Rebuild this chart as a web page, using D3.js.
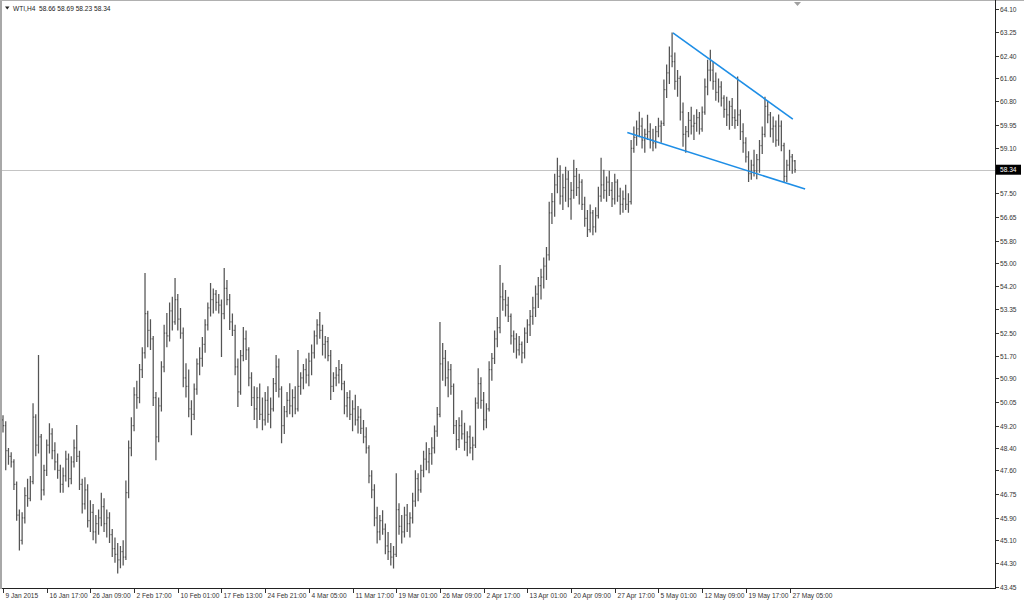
<html>
<head>
<script src="https://d3js.org/d3.v7.min.js"></script>
<style>
  body { margin: 0; background: #fff; }
  text { font-family: "Liberation Sans", Arial, sans-serif; }
</style>
</head>
<body>
<svg id="chart" width="1024" height="602"></svg>
<script>
// WTI H4 bars, 9 Jan 2015 .. 27 May 2015
var firstOpen = 49.40;
var highs = [
  49.57,49.35,48.40,48.25,48.00,47.20,46.20,46.10,47.00,47.30,
  47.40,50.00,49.60,51.72,48.90,47.80,48.70,49.28,49.10,48.60,
  48.20,47.80,47.70,48.30,48.20,48.10,48.70,49.22,48.30,47.30,
  47.35,47.10,46.53,46.40,46.00,46.20,46.80,46.60,46.20,46.10,
  45.50,45.20,45.00,44.90,45.10,47.24,48.67,49.50,50.57,50.80,
  51.40,52.00,54.65,53.30,53.00,52.40,50.40,50.20,51.50,52.80,
  53.22,53.60,53.80,54.47,53.90,53.40,52.70,51.43,51.20,50.10,
  50.70,51.60,52.00,52.36,53.00,53.60,54.29,54.10,54.04,53.90,
  53.70,54.83,54.40,53.90,53.20,52.80,51.60,51.90,52.72,52.60,
  52.00,51.10,50.60,50.57,50.70,50.20,50.40,50.60,50.20,50.90,
  51.72,51.60,50.60,49.90,50.40,50.71,50.50,50.60,51.90,51.10,
  51.40,51.60,51.80,52.10,52.60,53.00,53.26,52.80,52.40,52.36,
  51.90,51.10,51.29,51.54,51.40,50.80,50.40,50.46,50.10,50.30,
  49.90,49.80,49.40,49.14,48.50,47.60,47.10,46.30,46.00,46.17,
  45.70,45.40,45.00,44.90,47.50,46.42,46.00,46.30,46.40,46.10,
  46.80,47.60,47.50,47.80,48.30,48.60,48.40,48.78,49.20,49.86,
  52.90,52.15,51.90,51.50,51.40,50.70,49.40,49.50,49.75,49.30,
  49.00,49.20,48.80,50.20,51.25,50.93,50.40,50.00,51.50,51.79,
  52.60,53.08,54.94,54.30,54.04,53.80,53.20,52.60,52.50,52.40,
  52.20,52.70,53.00,53.33,53.80,54.20,54.51,54.80,55.20,55.58,
  57.20,57.51,58.20,58.77,58.50,58.20,58.45,58.30,57.90,58.70,
  58.40,58.20,58.00,57.37,56.90,57.10,56.90,57.00,57.73,58.77,
  58.34,58.10,58.30,57.90,58.20,58.00,57.70,57.60,57.80,57.50,
  59.40,59.88,60.10,60.41,60.20,59.80,60.30,60.00,59.80,59.90,
  60.20,60.10,61.56,62.10,62.74,63.24,62.53,61.90,61.70,60.74,
  59.90,60.40,60.59,60.30,60.50,60.40,60.60,61.60,62.27,62.63,
  62.20,61.81,61.60,61.50,61.00,60.95,60.80,60.90,60.50,61.67,
  60.49,60.00,59.50,59.00,58.70,59.05,58.90,59.40,59.88,60.95,
  60.80,60.40,60.24,60.10,60.31,60.10,59.30,58.70,59.05,58.90,58.69
];
var lows = [
  48.95,47.60,47.80,47.70,46.90,45.80,44.74,44.95,45.70,46.30,
  46.50,47.10,48.10,48.20,46.53,46.70,47.40,48.20,48.00,47.60,
  47.30,46.80,46.80,47.20,47.00,47.10,47.70,47.90,46.90,46.06,
  46.20,45.56,45.40,45.10,44.99,45.30,45.60,45.40,45.20,45.00,
  44.50,44.30,43.91,44.10,44.20,44.40,46.60,48.10,49.00,49.80,
  50.00,50.90,51.60,52.00,51.90,49.90,47.96,48.60,49.70,51.10,
  52.00,52.20,52.60,52.80,52.60,52.30,50.57,50.20,49.50,48.85,
  49.40,50.30,51.00,51.30,51.80,52.60,53.10,53.20,53.30,53.20,
  51.65,53.00,53.50,52.61,52.40,51.00,49.86,50.30,51.50,51.54,
  50.60,49.90,49.40,49.10,49.40,49.03,49.20,49.30,49.10,49.70,
  50.40,50.20,48.57,48.90,49.50,49.60,49.50,49.60,49.70,50.30,
  50.50,50.70,50.60,51.00,51.60,52.10,52.30,51.70,51.60,51.50,
  50.11,50.40,50.60,50.70,50.46,49.60,49.50,49.40,49.00,49.20,
  48.92,48.90,48.57,48.20,47.14,46.60,45.60,44.99,45.10,45.30,
  44.60,44.40,44.20,44.09,44.50,45.30,44.99,45.20,45.40,45.20,
  45.70,46.30,46.50,46.80,47.35,47.60,47.50,47.80,48.20,48.80,
  49.50,50.80,50.60,50.21,50.30,48.90,48.32,48.40,48.70,48.30,
  48.10,48.20,47.96,48.40,49.80,49.80,49.03,49.10,49.70,50.80,
  51.40,52.00,52.50,53.30,53.10,52.90,52.10,51.80,51.60,51.70,
  51.43,51.60,52.15,52.40,52.80,53.08,53.40,53.70,54.10,54.40,
  55.10,56.40,56.66,57.50,57.10,56.90,57.20,57.00,56.55,57.30,
  57.40,57.10,56.90,56.30,55.94,56.10,56.00,56.10,56.60,57.20,
  57.30,57.20,57.40,57.01,57.10,57.20,56.73,56.80,56.90,56.80,
  57.10,58.95,59.20,59.50,59.10,58.95,59.40,59.10,59.00,59.10,
  59.50,59.30,59.90,60.90,61.40,62.00,61.20,60.95,60.10,59.16,
  58.95,59.50,59.60,59.40,59.70,59.60,59.70,60.30,61.00,61.50,
  61.20,60.80,60.74,60.60,60.20,59.90,59.77,59.90,59.80,59.90,
  59.40,58.95,58.60,57.90,57.98,58.10,58.00,58.23,58.90,59.50,
  60.00,59.50,59.30,59.16,59.20,59.00,57.87,57.90,58.30,58.20,58.23
];
var closes = [
  49.20,48.30,48.10,47.90,47.10,46.00,45.10,45.90,46.70,46.60,
  47.20,49.50,48.50,48.80,46.90,47.60,48.50,48.90,48.30,47.90,
  47.60,47.10,47.40,48.00,47.30,47.90,48.40,48.10,47.10,46.40,
  46.90,45.80,46.10,45.40,45.70,45.90,46.30,45.70,45.90,45.30,
  44.80,44.60,44.40,44.70,44.50,46.80,48.40,49.20,50.30,50.20,
  51.20,51.80,53.20,52.60,52.30,50.20,48.80,49.90,51.30,52.50,
  52.40,53.30,52.90,53.70,53.00,52.50,50.90,50.60,49.80,49.60,
  50.50,51.40,51.60,52.10,52.80,53.40,53.70,53.90,53.60,53.50,
  53.20,54.10,53.70,52.90,52.60,51.30,50.40,51.70,52.30,51.90,
  50.90,50.20,49.80,50.20,49.60,49.40,50.10,49.60,49.80,50.70,
  51.30,50.50,49.20,49.70,50.10,49.90,50.20,49.80,50.60,50.90,
  51.20,51.00,51.50,51.80,52.40,52.80,52.60,52.10,52.20,51.70,
  50.60,50.90,51.00,51.20,50.70,49.90,50.20,49.60,49.80,49.40,
  49.50,49.10,48.80,48.40,47.40,46.90,45.90,45.40,45.80,45.50,
  44.90,44.70,44.50,44.60,46.20,45.60,45.40,46.00,45.70,45.90,
  46.50,47.30,46.90,47.60,48.00,47.90,48.20,48.40,49.00,49.60,
  51.40,51.60,50.90,51.20,50.60,49.20,48.70,49.20,48.90,48.60,
  48.80,48.40,48.50,50.00,50.70,50.10,49.40,49.80,51.20,51.60,
  52.30,52.70,53.80,53.70,53.50,53.10,52.40,52.30,51.90,52.10,
  51.80,52.50,52.80,53.10,53.40,53.90,54.20,54.50,54.90,55.30,
  56.80,57.20,57.80,58.10,57.40,57.70,58.00,57.30,57.60,58.10,
  57.70,57.90,57.10,56.60,56.20,56.80,56.30,56.70,57.40,57.80,
  57.60,57.90,57.60,57.30,57.90,57.40,57.10,57.30,57.10,57.20,
  59.10,59.50,59.80,59.90,59.40,59.60,59.70,59.40,59.30,59.70,
  59.90,60.00,61.20,61.80,62.40,62.20,61.50,61.60,60.40,59.60,
  59.70,60.10,59.90,60.00,60.20,59.80,60.40,61.30,61.90,61.90,
  61.50,61.10,61.30,60.90,60.50,60.30,60.60,60.20,60.10,60.30,
  59.70,59.30,58.80,58.20,58.50,58.30,58.70,59.20,59.60,60.60,
  60.30,59.80,59.90,59.40,59.90,59.20,58.10,58.50,58.80,58.66,58.34
];
var opens = [firstOpen].concat(closes.slice(0, closes.length - 1));

var priceTicks = [64.10,63.25,62.40,61.60,60.80,59.95,59.10,57.50,56.65,55.80,55.00,54.20,
  53.35,52.50,51.70,50.90,50.05,49.20,48.40,47.60,46.75,45.90,45.10,44.30,43.45];
var timeLabels = ["9 Jan 2015","16 Jan 17:00","26 Jan 09:00","2 Feb 17:00","10 Feb 01:00",
  "17 Feb 13:00","24 Feb 21:00","4 Mar 05:00","11 Mar 17:00","19 Mar 01:00","26 Mar 09:00",
  "2 Apr 17:00","13 Apr 01:00","20 Apr 09:00","27 Apr 17:00","5 May 01:00","12 May 09:00",
  "19 May 17:00","27 May 05:00"];
var labelEvery = 16;
var lastPrice = 58.34;
var header = "WTI,H4  58.66 58.69 58.23 58.34";
// trend lines: [bar index, price]
var upperLine = [[245.3, 63.23], [289.2, 60.15]];
var lowerLine = [[228.6, 59.67], [293.7, 57.65]];

var svg = d3.select("#chart");
var x = d3.scaleLinear().domain([0, 290]).range([3, 795]);
var y = d3.scaleLinear().domain([43.45, 64.10]).range([586.5, 8.5]);

svg.append("rect").attr("width", 1024).attr("height", 602).attr("fill", "#fff");

// frame
svg.append("line").attr("x1", 1).attr("x2", 1).attr("y1", 0).attr("y2", 589)
  .attr("stroke", "#a8a8a8").attr("stroke-width", 2);
svg.append("line").attr("x1", 0).attr("x2", 1024).attr("y1", 0.5).attr("y2", 0.5)
  .attr("stroke", "#b0b0b0");
svg.append("line").attr("x1", 995.5).attr("x2", 995.5).attr("y1", 0).attr("y2", 589)
  .attr("stroke", "#222");
svg.append("line").attr("x1", 2).attr("x2", 996).attr("y1", 588.5).attr("y2", 588.5)
  .attr("stroke", "#222");

// last price line
svg.append("line").attr("x1", 2).attr("x2", 995).attr("y1", Math.round(y(lastPrice)) + 0.5)
  .attr("y2", Math.round(y(lastPrice)) + 0.5).attr("stroke", "#c4c4c4");

// bars
var bars = svg.append("g").attr("stroke", "#555").attr("stroke-width", 1.25).attr("fill", "none");
bars.selectAll("path").data(closes).enter().append("path")
  .attr("d", function(c, i) {
    var xi = x(i);
    var hi = Math.max(highs[i], opens[i], c), lo = Math.min(lows[i], opens[i], c);
    return "M" + xi + "," + y(hi) + "V" + y(lo) +
      "M" + (xi - 1) + "," + y(opens[i]) + "H" + xi +
      "M" + xi + "," + y(c) + "H" + (xi + 1);
  });

// trend lines
[upperLine, lowerLine].forEach(function(l) {
  svg.append("line")
    .attr("x1", x(l[0][0])).attr("y1", y(l[0][1]))
    .attr("x2", x(l[1][0])).attr("y2", y(l[1][1]))
    .attr("stroke", "#1e8ee6").attr("stroke-width", 1.6);
});

// price axis
var pa = svg.append("g").attr("font-size", "6.6px").attr("fill", "#333");
priceTicks.forEach(function(p) {
  var yy = Math.round(y(p)) + 0.5;
  svg.append("line").attr("x1", 996).attr("x2", 999).attr("y1", yy).attr("y2", yy).attr("stroke", "#333");
  pa.append("text").attr("x", 1000).attr("y", yy + 2.4).text(p.toFixed(2));
});
svg.append("rect").attr("x", 996).attr("y", y(lastPrice) - 5).attr("width", 25).attr("height", 10).attr("fill", "#000");
svg.append("text").attr("x", 1000).attr("y", y(lastPrice) + 2.4).attr("font-size", "6.6px")
  .attr("fill", "#fff").text(lastPrice.toFixed(2));

// time axis
var ta = svg.append("g").attr("font-size", "6.6px").attr("fill", "#333");
timeLabels.forEach(function(t, k) {
  var xx = Math.round(x(k * labelEvery)) + 0.5;
  svg.append("line").attr("x1", xx).attr("x2", xx).attr("y1", 589).attr("y2", 593).attr("stroke", "#333");
  ta.append("text").attr("x", xx + 2).attr("y", 597.5).text(t);
});

// header + shift marker
svg.append("path").attr("d", "M5,6.5H9.5L7.25,9.5Z").attr("fill", "#222");
svg.append("text").attr("x", 13).attr("y", 10.5).attr("font-size", "6.6px").attr("fill", "#222")
  .attr("xml:space", "preserve").text(header);
svg.append("path").attr("d", "M794,2H801L797.5,6Z").attr("fill", "#a0a0a0");
</script>
</body>
</html>
